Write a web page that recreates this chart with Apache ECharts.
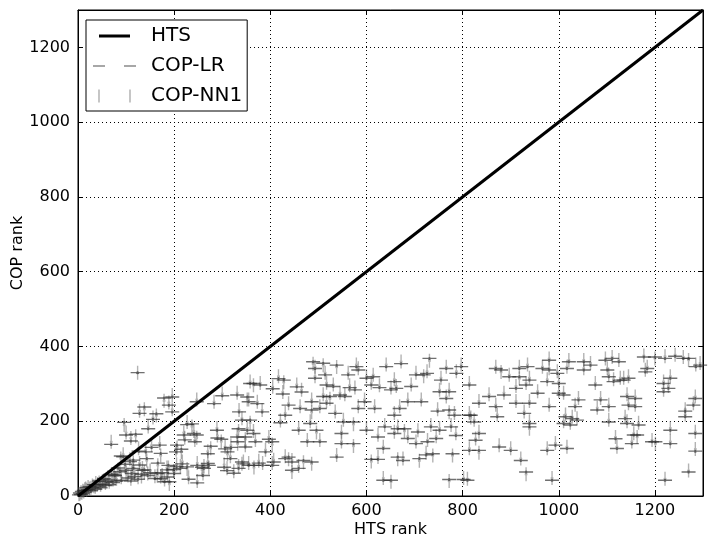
<!DOCTYPE html>
<html><head><meta charset="utf-8">
<script src="https://cdn.jsdelivr.net/npm/echarts@6/dist/echarts.min.js"></script>
<style>html,body{margin:0;padding:0;background:#fff}#c{width:714px;height:545px}</style>
</head><body><div id="c"></div><script>
// ---- data ----
const axisRange = [0, 1300];
const tickStep = 200;
const htsRank = [
2,4,6,8,10,12,14,16,18,21,
24,27,30,33,36,37,41,44,47,51,
54,57,58,62,65,69,70,73,76,77,
80,83,87,89,90,94,96,98,100,100,
104,108,110,112,115,115,118,120,124,126,
128,128,132,134,138,138,141,143,146,150,
153,156,160,163,166,170,172,172,175,179,
180,186,188,189,190,196,196,199,204,205,
206,213,215,217,220,222,227,227,237,241,
243,247,247,248,248,258,262,270,270,272,
276,283,289,290,298,300,304,306,310,311,
317,318,324,331,331,332,334,334,335,341,
341,344,348,348,352,352,355,355,358,358,
365,365,366,369,373,376,379,383,384,390,
397,404,404,405,407,417,421,426,428,431,
431,438,438,445,445,455,459,459,462,465,
469,477,483,486,486,486,489,493,493,496,
503,503,510,510,514,517,517,524,531,535,
538,538,545,548,548,552,555,562,565,573,
573,576,579,583,583,596,600,600,610,610,
614,617,624,624,627,635,635,638,641,651,
651,658,658,658,662,665,665,669,672,676,
679,686,686,693,703,703,707,710,714,719,
724,726,727,731,734,738,745,748,752,752,
755,766,766,772,772,772,776,779,783,786,
787,797,802,810,814,814,814,817,824,827,
834,834,834,855,869,869,872,876,880,886,
897,900,911,911,918,918,921,928,932,932,
935,939,939,939,939,956,966,976,976,980,
980,980,986,993,997,1000,1000,1010,1010,1014,
1017,1017,1021,1024,1028,1034,1038,1041,1052,1052,
1066,1076,1080,1087,1097,1101,1104,1104,1104,1111,
1114,1118,1121,1125,1128,1135,1138,1142,1142,1145,
1145,1152,1156,1159,1159,1163,1166,1177,1180,1184,
1194,1200,1201,1218,1218,1221,1221,1228,1232,1232,
1232,1242,1259,1263,1263,1270,1270,1280,1284,1284,
1284,1285,1294,
110,125,145,165,185,200,230,260];
const copLR = [
3,8,4,12,6,15,10,15,22,17,
25,14,21,30,18,30,25,40,22,32,
46,28,38,43,30,138,58,36,56,54,
40,75,65,107,42,105,197,85,163,69,
48,92,147,60,96,74,52,165,330,120,
83,221,58,69,70,238,118,100,180,62,
130,205,47,220,88,136,114,46,62,262,
38,51,82,243,38,265,225,71,118,79,
136,74,125,86,163,150,78,191,193,167,
145,252,163,82,35,77,74,113,87,82,
133,247,176,155,152,268,77,126,68,118,
100,130,61,270,158,145,180,74,225,203,
91,86,158,131,265,176,252,82,203,301,
301,167,82,145,247,88,297,225,82,118,
152,82,145,287,91,314,196,273,310,216,
100,243,104,91,69,292,176,74,234,278,
95,145,194,252,230,91,359,341,315,176,
234,145,355,266,324,297,248,266,293,221,
350,104,270,167,140,198,266,324,290,198,
140,284,346,337,234,252,315,176,297,98,
319,234,158,98,290,127,42,185,346,284,
42,306,216,167,288,180,104,234,354,95,
180,252,154,293,324,140,171,100,252,324,
110,328,145,368,185,113,154,227,279,176,
310,341,261,279,230,44,185,113,216,162,
328,346,44,42,297,216,122,216,198,149,
248,167,122,266,341,239,212,131,337,270,
319,122,288,248,341,319,95,221,297,64,
346,310,248,194,185,275,341,306,122,363,
337,239,42,136,328,301,275,270,194,212,
341,127,359,190,207,239,203,257,359,337,
350,297,230,257,363,337,319,239,198,368,
306,153,127,359,310,310,207,266,194,315,
243,140,163,261,239,163,190,372,332,341,
145,372,145,301,279,368,42,288,315,176,
140,374,368,227,212,368,64,243,261,167,
120,346,350,
40,45,55,60,70,60,45,55];
const copNN1 = [
5,6,10,9,14,12,18,20,17,24,
20,22,28,26,25,35,32,36,30,40,
42,35,44,50,38,145,52,44,62,48,
46,70,72,100,50,112,190,80,170,62,
55,98,155,66,90,80,58,160,330,128,
88,228,52,75,64,232,124,95,186,68,
136,210,53,215,82,142,108,52,56,255,
44,57,76,250,32,270,232,66,124,85,
130,80,118,92,170,156,72,198,186,174,
150,258,156,88,40,70,80,120,92,76,
128,252,182,162,146,274,84,132,74,112,
106,136,66,276,164,140,174,80,230,208,
86,92,152,136,258,182,258,88,196,306,
296,174,76,150,252,94,302,230,88,124,
158,88,138,292,97,320,202,278,304,222,
106,248,98,96,64,298,182,80,240,284,
90,150,200,258,224,86,354,346,320,170,
240,150,350,272,330,303,254,260,298,226,
345,110,276,172,146,204,272,330,296,192,
134,290,352,342,240,258,320,182,303,92,
324,240,164,104,296,132,48,190,352,290,
38,312,222,172,294,186,98,240,360,100,
174,258,160,298,330,146,176,94,258,320,
116,334,150,362,190,108,160,232,284,182,
316,346,266,284,224,40,190,108,222,168,
334,352,48,46,302,222,128,210,204,154,
254,172,116,272,346,244,218,136,332,276,
324,128,294,254,346,314,100,226,302,58,
352,316,254,200,180,280,346,312,128,368,
342,244,48,142,334,306,280,276,200,218,
346,132,364,196,212,244,208,262,364,342,
356,302,236,262,368,342,324,244,204,372,
312,158,132,364,316,316,212,272,200,320,
248,146,168,266,244,158,196,376,338,346,
150,368,140,306,284,374,46,294,320,182,
146,378,372,232,218,364,68,248,266,172,
126,352,356,
46,50,60,54,76,66,50,60];
const seriesNames = ['HTS', 'COP-LR', 'COP-NN1'];
const axisNames = ['HTS rank', 'COP rank'];

// ---- build ----
const FONT = 'DejaVu Sans';
const lrData = htsRank.map((x, i) => [x, copLR[i]]);
const nnData = htsRank.map((x, i) => [x, copNN1[i]]);
const htsData = axisRange.map(v => [v, v]);

const SYM_LR = 'path://M0,0.8H14V2.2H0ZM5.5,1.5A1.5,1.5,0,1,1,8.5,1.5A1.5,1.5,0,1,1,5.5,1.5Z';
const SYM_NN = 'path://M0.8,0H2.2V14H0.8ZM1.5,5.5A1.5,1.5,0,1,1,1.5,8.5A1.5,1.5,0,1,1,1.5,5.5Z';
const FRAME = 'M0,0L0.01,0L0,0.01ZM53,20L52.99,20L53,19.99Z';
const ICON_HTS = 'path://' + FRAME + 'M6,8.5H37V11.5H6Z';
const ICON_LR = 'path://' + FRAME + 'M0,9.3H12V10.7H0ZM31,9.3H43V10.7H31Z';
const ICON_NN = 'path://' + FRAME + 'M5.4,3.5H6.6V16.5H5.4ZM36.4,3.5H37.6V16.5H36.4Z';

const tickCommon = {inside: true, length: 5, lineStyle: {color: '#000', width: 1}};
const lineCommon = {show: true, onZero: false, lineStyle: {color: '#000', width: 1}};
const splitCommon = {show: true, lineStyle: {color: '#000', width: 1, type: [1, 3]}};
const labelCommon = {fontFamily: FONT, fontSize: 16, color: '#000', showMaxLabel: false,
  formatter: v => String(v)};

const chart = echarts.init(document.getElementById('c'));
chart.setOption({
  animation: false,
  backgroundColor: '#fff',
  grid: {left: 78, right: 11, top: 10, bottom: 49, show: true, borderColor: '#000', borderWidth: 1,
    backgroundColor: 'transparent', containLabel: false, outerBoundsMode: 'none'},
  legend: {
    orient: 'vertical', left: 86, top: 20, padding: [6, 5, 5, 7], itemGap: 10,
    itemWidth: 53, itemHeight: 20,
    borderColor: '#000', borderWidth: 1, backgroundColor: '#fff',
    textStyle: {fontFamily: FONT, fontSize: 20, color: '#000'},
    selectedMode: false,
    data: [
      {name: seriesNames[0], icon: ICON_HTS, itemStyle: {color: '#000', borderWidth: 0, opacity: 1}},
      {name: seriesNames[1], icon: ICON_LR, itemStyle: {color: '#8a8a8a', borderWidth: 0, opacity: 1}},
      {name: seriesNames[2], icon: ICON_NN, itemStyle: {color: '#a0a0a0', borderWidth: 0, opacity: 1}}
    ]
  },
  xAxis: [
    {type: 'value', position: 'bottom', min: axisRange[0], max: axisRange[1], interval: tickStep,
     axisLine: lineCommon, axisTick: tickCommon, splitLine: splitCommon,
     axisLabel: Object.assign({margin: 7}, labelCommon),
     name: axisNames[0], nameLocation: 'middle', nameGap: 26, nameMoveOverlap: false,
     nameTextStyle: {fontFamily: FONT, fontSize: 16, color: '#000'}},
    {type: 'value', position: 'top', min: axisRange[0], max: axisRange[1], interval: tickStep,
     axisLine: lineCommon, axisTick: tickCommon, splitLine: {show: false}, axisLabel: {show: false}}
  ],
  yAxis: [
    {type: 'value', position: 'left', min: axisRange[0], max: axisRange[1], interval: tickStep,
     axisLine: lineCommon, axisTick: tickCommon, splitLine: splitCommon,
     axisLabel: Object.assign({margin: 8}, labelCommon),
     name: axisNames[1], nameLocation: 'middle', nameGap: 52, nameMoveOverlap: false,
     nameTextStyle: {fontFamily: FONT, fontSize: 16, color: '#000'}},
    {type: 'value', position: 'right', min: axisRange[0], max: axisRange[1], interval: tickStep,
     axisLine: lineCommon, axisTick: tickCommon, splitLine: {show: false}, axisLabel: {show: false}}
  ],
  series: [
    {name: seriesNames[2], type: 'scatter', data: nnData, symbol: SYM_NN, symbolSize: [3, 14],
     itemStyle: {color: 'rgba(110,110,110,0.65)'}, z: 2, silent: true},
    {name: seriesNames[1], type: 'scatter', data: lrData, symbol: SYM_LR, symbolSize: [14, 3],
     itemStyle: {color: 'rgba(45,45,45,0.85)'}, z: 3, silent: true},
    {name: seriesNames[0], type: 'line', data: htsData, showSymbol: false, symbol: 'none',
     lineStyle: {color: '#000', width: 3}, z: 4, silent: true}
  ]
});
</script></body></html>
